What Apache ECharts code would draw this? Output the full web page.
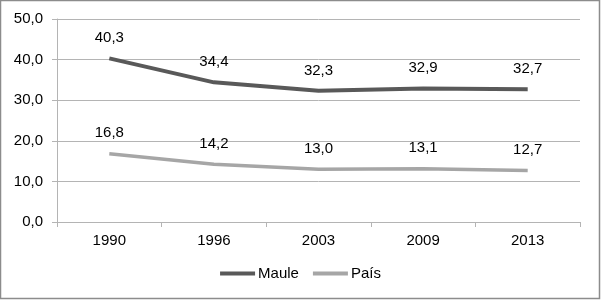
<!DOCTYPE html>
<html>
<head>
<meta charset="utf-8">
<script src="https://cdn.jsdelivr.net/npm/echarts@6/dist/echarts.min.js"></script>
<style>
html,body{margin:0;padding:0;background:#fff;}
#c{width:601px;height:300px;}
</style>
</head>
<body>
<div id="c"></div>
<script>
const categories = ['1990', '1996', '2003', '2009', '2013'];
const maule = [40.3, 34.4, 32.3, 32.9, 32.7];
const pais = [16.8, 14.2, 13.0, 13.1, 12.7];
const yTicks = { min: 0, max: 50, interval: 10 };

const fmt = v => Number(v).toFixed(1).replace('.', ',');
const font = 'Liberation Sans, Arial, sans-serif';

const chart = echarts.init(document.getElementById('c'), null, { renderer: 'canvas' });
chart.setOption({
  animation: false,
  backgroundColor: '#fff',
  graphic: [{
    type: 'rect',
    shape: { x: 0.5, y: 0.5, width: 599, height: 298 },
    style: { fill: 'none', stroke: '#8c8c8c', lineWidth: 1.5 },
    silent: true
  }],
  grid: { left: 57, right: 21, top: 19, bottom: 78 },
  legend: {
    bottom: 14,
    left: 'center',
    itemWidth: 35,
    itemHeight: 4,
    itemGap: 14,
    icon: 'rect',
    textStyle: { fontFamily: font, fontSize: 15, color: '#000', padding: [0, 0, 0, -2] },
    data: ['Maule', 'País']
  },
  xAxis: {
    type: 'category',
    data: categories,
    boundaryGap: true,
    axisLine: { lineStyle: { color: '#b4b4b4', width: 1 } },
    axisTick: { show: true, length: 5, alignWithLabel: false, lineStyle: { color: '#b4b4b4' } },
    axisLabel: { fontFamily: font, fontSize: 15, color: '#000', margin: 11 }
  },
  yAxis: {
    type: 'value',
    min: yTicks.min, max: yTicks.max, interval: yTicks.interval,
    axisLine: { show: true, lineStyle: { color: '#b4b4b4', width: 1 } },
    axisTick: { show: true, length: 5, lineStyle: { color: '#b4b4b4' } },
    splitLine: { show: true, lineStyle: { color: '#b4b4b4', width: 1 } },
    axisLabel: { fontFamily: font, fontSize: 15, color: '#000', margin: 14, formatter: fmt }
  },
  series: [
    {
      name: 'Maule', type: 'line', data: maule,
      symbol: 'circle', symbolSize: 0, showSymbol: true,
      lineStyle: { color: '#595959', width: 4 },
      itemStyle: { color: '#595959' },
      label: { show: true, position: 'top', distance: 13, fontFamily: font, fontSize: 15, color: '#000', formatter: p => fmt(p.value) }
    },
    {
      name: 'País', type: 'line', data: pais,
      symbol: 'circle', symbolSize: 0, showSymbol: true,
      lineStyle: { color: '#a6a6a6', width: 3.5 },
      itemStyle: { color: '#a6a6a6' },
      label: { show: true, position: 'top', distance: 13, fontFamily: font, fontSize: 15, color: '#000', formatter: p => fmt(p.value) }
    }
  ]
});
</script>
</body>
</html>
